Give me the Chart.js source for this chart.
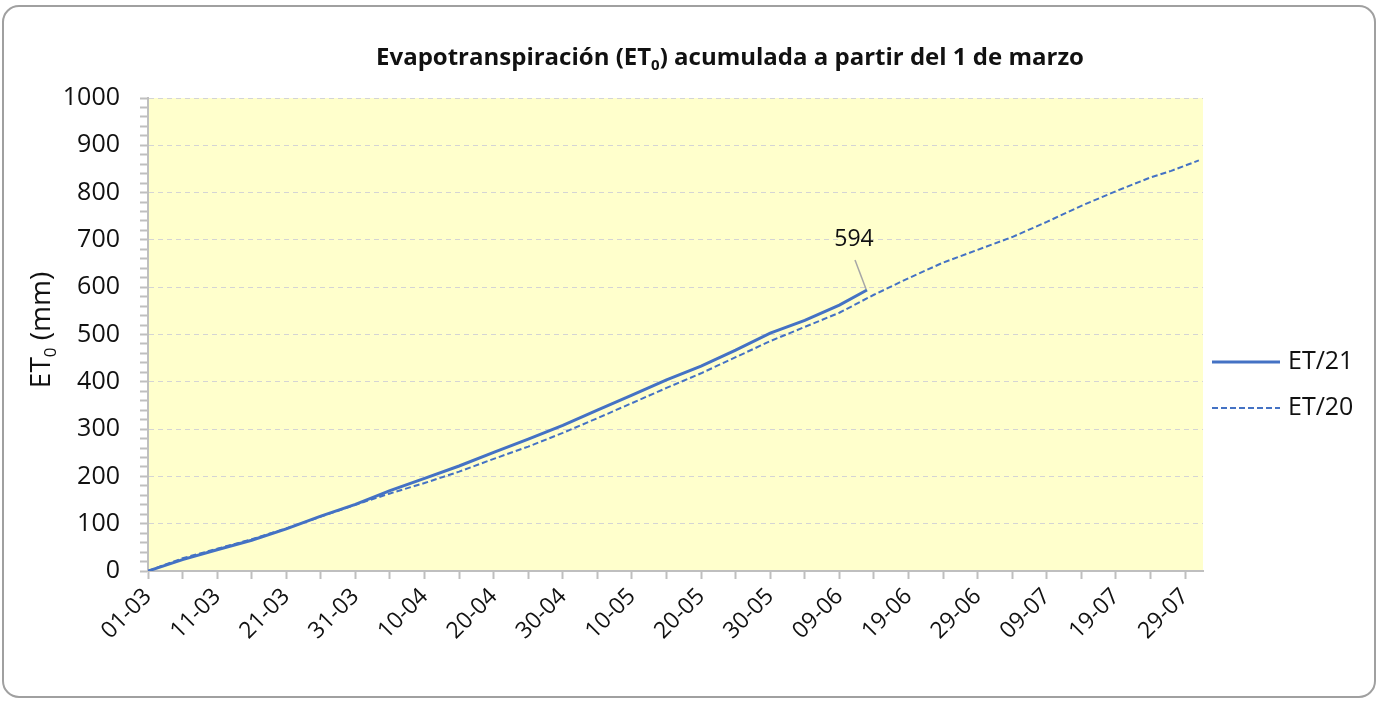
<!DOCTYPE html>
<html>
<head>
<meta charset="utf-8">
<script src="https://cdn.jsdelivr.net/npm/chart.js@4.4.1/dist/chart.umd.min.js"></script>
<style>
  body { margin: 0; background: #fff; }
  canvas { display: block; }
</style>
</head>
<body>
<canvas id="myChart" width="1382" height="701"></canvas>
<script>
// days counted from 1 March (0 = 01-03), values in mm
const days21 = [0, 5, 10, 15, 20, 25, 30, 35, 40, 45, 50, 55, 60, 65, 70, 75, 80, 85, 90, 95, 100, 104];
const et21 = [0, 24, 45, 65, 89, 116, 141, 170, 196, 222, 251, 279, 308, 340, 372, 404, 433, 467, 503, 530, 562, 594];

const days20 = [0, 5, 10, 15, 20, 25, 30, 35, 40, 45, 50, 55, 60, 65, 70, 75, 80, 85, 90, 95, 100, 105, 110, 115, 120, 125, 130, 135, 140, 145, 148, 152];
const et20 = [0, 27, 47, 67, 90, 115, 140, 164, 186, 210, 237, 263, 292, 323, 355, 387, 418, 452, 486, 516, 546, 584, 619, 652, 679, 706, 738, 772, 803, 832, 846, 868];

const tickLabels = ["01-03", "11-03", "21-03", "31-03", "10-04", "20-04", "30-04", "10-05", "20-05", "30-05", "09-06", "19-06", "29-06", "09-07", "19-07", "29-07"];
const seriesNames = ["ET/21", "ET/20"];

const FONT = "'Open Sans', 'DejaVu Sans', sans-serif";
const BLUE = "#4472c4";

// text with a subscript part, e.g. ET0
function richText(ctx, parts, x, y, size, weight) {
  const big = weight + " " + size + "px " + FONT;
  const small = weight + " " + Math.round(size * 0.62) + "px " + FONT;
  let w = 0;
  parts.forEach(p => { ctx.font = p.sub ? small : big; w += ctx.measureText(p.t).width; });
  let cx = x - w / 2;
  ctx.textAlign = "left";
  ctx.textBaseline = "alphabetic";
  parts.forEach(p => {
    ctx.font = p.sub ? small : big;
    ctx.fillText(p.t, cx, y + (p.sub ? size * 0.2 : 0));
    cx += ctx.measureText(p.t).width;
  });
}

const decor = {
  id: "decor",
  beforeDraw(chart) {
    const { ctx, chartArea: a } = chart;
    ctx.save();
    // outer rounded frame
    ctx.strokeStyle = "#a0a0a0";
    ctx.lineWidth = 2;
    ctx.beginPath();
    ctx.roundRect(3, 6, 1372, 691, 16);
    ctx.stroke();
    // plot background
    ctx.fillStyle = "#ffffcc";
    ctx.fillRect(a.left, a.top, a.right - a.left, a.bottom - a.top);
    ctx.restore();
  },
  afterDraw(chart) {
    const { ctx, chartArea: a } = chart;
    ctx.save();
    ctx.fillStyle = "#111";

    // title
    richText(ctx, [
      { t: "Evapotranspiración (ET" }, { t: "0", sub: true }, { t: ") acumulada a partir del 1 de marzo" }
    ], 730, 65, 24, "bold");

    // y axis title
    ctx.save();
    ctx.translate(40, 330);
    ctx.rotate(-Math.PI / 2);
    richText(ctx, [{ t: "ET" }, { t: "0", sub: true }, { t: " (mm)" }], 0, 10, 28, "normal");
    ctx.restore();

    // legend
    const lx = a.right + 9;
    ctx.strokeStyle = BLUE;
    ctx.lineWidth = 3;
    ctx.beginPath();
    ctx.moveTo(lx, a.top + 264);
    ctx.lineTo(lx + 68, a.top + 264);
    ctx.stroke();
    ctx.lineWidth = 2;
    ctx.setLineDash([6, 3]);
    ctx.beginPath();
    ctx.moveTo(lx, a.top + 310);
    ctx.lineTo(lx + 68, a.top + 310);
    ctx.stroke();
    ctx.setLineDash([]);
    ctx.font = "25px " + FONT;
    ctx.textAlign = "left";
    ctx.textBaseline = "middle";
    ctx.fillText(seriesNames[0], lx + 76, a.top + 264);
    ctx.fillText(seriesNames[1], lx + 76, a.top + 310);

    // label on the last ET/21 point
    const pts = chart.getDatasetMeta(0).data;
    const p = pts[pts.length - 1];
    ctx.strokeStyle = "#a6a6a6";
    ctx.lineWidth = 1.5;
    ctx.beginPath();
    ctx.moveTo(p.x - 12, p.y - 30);
    ctx.lineTo(p.x - 1, p.y - 1);
    ctx.stroke();
    ctx.font = "23px " + FONT;
    ctx.textAlign = "center";
    ctx.fillText(String(et21[et21.length - 1]), p.x - 13, p.y - 51);
    ctx.restore();
  }
};

const isStep = (v, s) => Math.abs(v - Math.round(v / s) * s) < 1e-6;

const ctx = document.getElementById("myChart").getContext("2d");
const chart = new Chart(ctx, {
  type: "line",
  data: {
    datasets: [
      {
        label: seriesNames[0],
        data: days21.map((d, i) => ({ x: d, y: et21[i] })),
        borderColor: BLUE,
        borderWidth: 3,
        pointRadius: 0,
        tension: 0,
        fill: false,
      },
      {
        label: seriesNames[1],
        data: days20.map((d, i) => ({ x: d, y: et20[i] })),
        borderColor: BLUE,
        borderWidth: 2,
        borderDash: [6, 3],
        pointRadius: 0,
        tension: 0,
        fill: false,
      },
    ],
  },
  options: {
    responsive: false,
    animation: false,
    layout: { padding: { top: 98, right: 179, bottom: 0, left: 0 } },
    plugins: {
      legend: { display: false },
      title: { display: false },
      tooltip: { enabled: false },
    },
    scales: {
      x: {
        type: "linear",
        min: 0,
        max: 152.6,
        // a tick every 5 days, a label every 10 days
        afterBuildTicks: (s) => {
          s.ticks = [];
          for (let d = 0; d <= (tickLabels.length - 1) * 10; d += 5) s.ticks.push({ value: d });
        },
        afterFit: (s) => { s.height = 130; },
        ticks: {
          autoSkip: false,
          minRotation: 45,
          maxRotation: 45,
          padding: 4,
          color: "#111",
          font: { family: FONT, size: 23 },
          callback: (v) => isStep(v, 10) ? tickLabels[Math.round(v / 10)] : "",
        },
        grid: { drawOnChartArea: false, tickLength: 8, tickColor: "#bfbfbf", tickWidth: 2 },
        border: { color: "#bfbfbf", width: 2 },
      },
      y: {
        min: 0,
        max: 1000,
        afterFit: (s) => { s.width = 148; },
        ticks: {
          stepSize: 20,
          autoSkip: false,
          padding: 20,
          color: "#111",
          font: { family: FONT, size: 25 },
          callback: (v) => isStep(v, 100) ? v : "",
        },
        grid: {
          color: (c) => (c.tick && isStep(c.tick.value, 100) && c.tick.value > 0) ? "#d4d4d4" : "rgba(0,0,0,0)",
          lineWidth: 1,
          tickColor: "#bfbfbf",
          tickLength: 8,
          tickWidth: 2,
        },
        border: { color: "#bfbfbf", width: 2, dash: [5, 4] },
      },
    },
  },
  plugins: [decor],
});
</script>
</body>
</html>
